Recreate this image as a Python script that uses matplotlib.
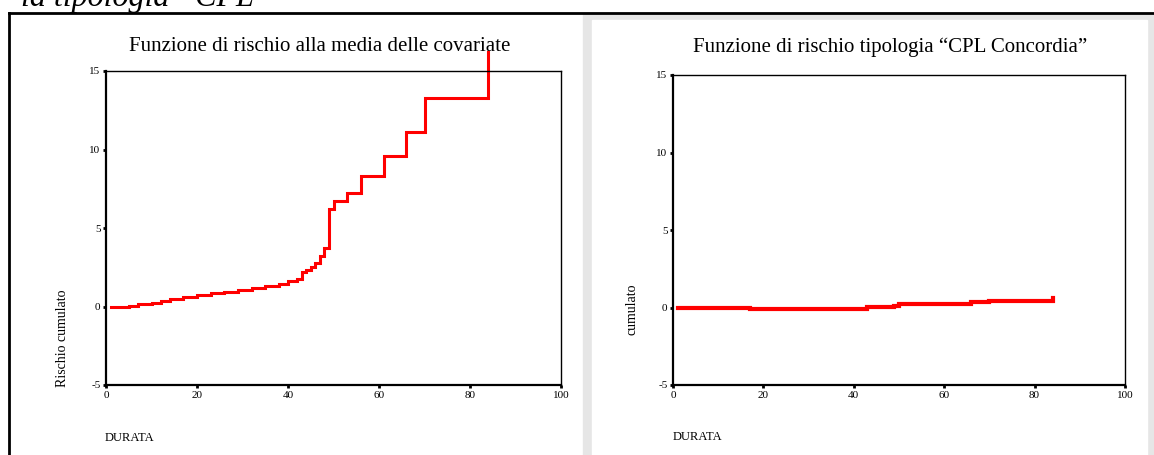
import matplotlib.pyplot as plt
from matplotlib.patches import Rectangle
from matplotlib.lines import Line2D

W, H = 1154, 455

# cumulative hazard at covariate means (left panel)
durata_media = [1, 5, 7, 10, 12, 14, 17, 20, 23, 26, 29, 32, 35, 38, 40, 42, 43, 44,
                45, 46, 47, 48, 49, 50, 53, 56, 61, 66, 70, 84]
rischio_media = [0.0, 0.05, 0.15, 0.25, 0.35, 0.45, 0.6, 0.75, 0.85, 0.95, 1.05, 1.15,
                 1.3, 1.45, 1.6, 1.75, 2.2, 2.3, 2.5, 2.8, 3.2, 3.75, 6.2, 6.7, 7.2,
                 8.3, 9.6, 11.1, 13.25, 16.2]

# cumulative hazard for "CPL Concordia" (right panel)
durata_cpl = [1, 17, 43, 49, 50, 61, 66, 70, 84]
rischio_cpl = [-0.05, -0.08, 0.05, 0.1, 0.2, 0.25, 0.33, 0.45, 0.6]

xticks = [0, 20, 40, 60, 80, 100]
yticks = [-5, 0, 5, 10, 15]

plt.rcParams['font.family'] = ['Liberation Serif', 'DejaVu Serif']
plt.rcParams['axes.unicode_minus'] = False


def fx(px):
    return px / W


def fy(py):
    return 1 - py / H


fig = plt.figure(figsize=(W / 100, H / 100), dpi=100)
fig.patch.set_facecolor('white')

# page decoration: frame and grey panel of the right chart
fig.add_artist(Rectangle((fx(583), 0), fx(1154) - fx(583), fy(14), color='#e6e6e6', zorder=0))
fig.add_artist(Rectangle((fx(592), 0), fx(1147) - fx(592), fy(20), color='white', zorder=0))
fig.add_artist(Line2D([fx(9), 1], [fy(13), fy(13)], color='black', lw=2))
fig.add_artist(Line2D([fx(9), fx(9)], [0, fy(13)], color='black', lw=2))

fig.text(fx(21), fy(6), 'la tipologia \u201cCPL\u201d', fontsize=23, style='italic',
         va='baseline', ha='left')


def make_axes(box, x, y, title, ylabel, title_xy, ylab_xy, dur_xy, lw):
    l, t, r, b = box
    ax = fig.add_axes([fx(l), fy(b), fx(r) - fx(l), fy(t) - fy(b)])
    ax.step(x, y, where='post', color='#ff0000', lw=lw, clip_on=False,
            solid_joinstyle='miter')
    ax.set_xlim(0, 100)
    ax.set_ylim(-5, 15)
    ax.set_xticks(xticks)
    ax.set_yticks(yticks)
    ax.tick_params(direction='out', length=2, width=2, labelsize=8, pad=2)
    for s in ['left', 'bottom']:
        ax.spines[s].set_linewidth(1.6)
    for s in ['top', 'right']:
        ax.spines[s].set_linewidth(1.0)
    fig.text(fx(title_xy[0]), fy(title_xy[1]), title, fontsize=15, ha='center',
             va='baseline')
    fig.text(fx(ylab_xy[0]), fy(ylab_xy[1]), ylabel, fontsize=10, rotation=90,
             ha='center', va='bottom')
    fig.text(fx(dur_xy[0]), fy(dur_xy[1]), 'DURATA', fontsize=9, ha='left',
             va='baseline')
    return ax


make_axes((106, 71, 561, 385), durata_media, rischio_media,
          'Funzione di rischio alla media delle covariate', 'Rischio cumulato',
          (320, 51), (62, 387), (105, 441), 2.2)
make_axes((673, 75, 1125, 385), durata_cpl, rischio_cpl,
          'Funzione di rischio tipologia \u201cCPL Concordia\u201d', 'cumulato',
          (890, 52), (632, 335), (673, 440), 3.0)

fig.savefig('out.png', dpi=100)
